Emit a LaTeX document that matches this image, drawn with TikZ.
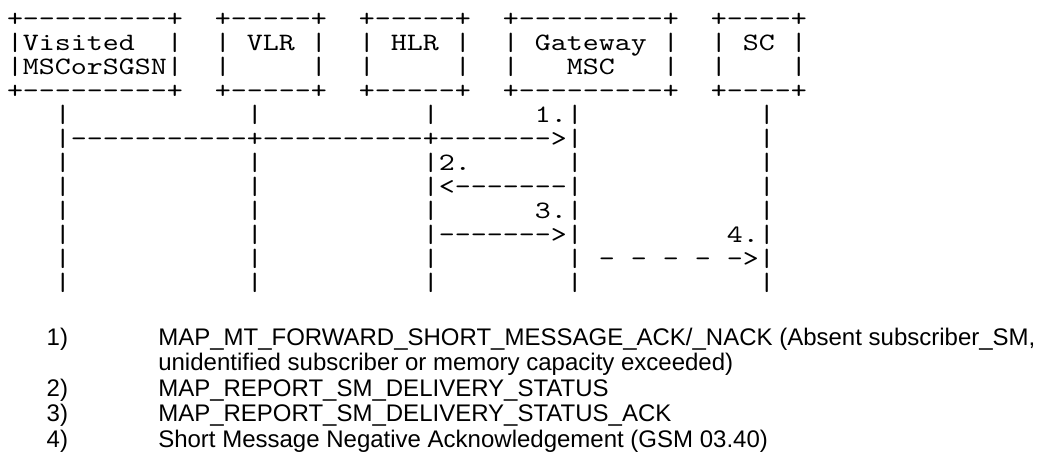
\documentclass[tikz,border=0pt]{standalone}
\usepackage{fontspec}
\newfontfamily\asciifont{lmmono10-regular}[Extension=.otf, Ligatures=TeXOff, FakeStretch=1.219]
\newfontfamily\notefont{Liberation Sans}
\newcommand\tightlines{\lineskiplimit=-1000pt\relax\lineskip=0pt\relax}
\begin{document}
\begin{tikzpicture}[x=1pt,y=-1pt,
  asciiart/.style={anchor=base west, inner sep=0pt, outer sep=0pt, align=left,
    font=\asciifont\fontsize{25pt}{24pt}\selectfont},
  notetext/.style={anchor=base west, inner sep=0pt, outer sep=0pt,
    font=\notefont\fontsize{24pt}{25.5pt}\selectfont}]
\useasboundingbox (0,0) rectangle (1040,455);
% participant boxes, lifelines and messages, drawn as the reference's ASCII art
% (anchor: baseline of the last line)
\node[asciiart] (chart) at (7,290) {\tightlines
+---------+~~+-----+~~+-----+~~+---------+~~+----+\\
|Visited~~|~~|~VLR~|~~|~HLR~|~~|~Gateway~|~~|~SC~|\\
|MSCorSGSN|~~|~~~~~|~~|~~~~~|~~|~~~MSC~~~|~~|~~~~|\\
+---------+~~+-----+~~+-----+~~+---------+~~+----+\\
~~~|~~~~~~~~~~~|~~~~~~~~~~|~~~~~~1.|~~~~~~~~~~~|\\
~~~|-----------+----------+------->|~~~~~~~~~~~|\\
~~~|~~~~~~~~~~~|~~~~~~~~~~|2.~~~~~~|~~~~~~~~~~~|\\
~~~|~~~~~~~~~~~|~~~~~~~~~~|<-------|~~~~~~~~~~~|\\
~~~|~~~~~~~~~~~|~~~~~~~~~~|~~~~~~3.|~~~~~~~~~~~|\\
~~~|~~~~~~~~~~~|~~~~~~~~~~|------->|~~~~~~~~~4.|\\
~~~|~~~~~~~~~~~|~~~~~~~~~~|~~~~~~~~|~-~-~-~-~->|\\
~~~|~~~~~~~~~~~|~~~~~~~~~~|~~~~~~~~|~~~~~~~~~~~|};
% notes
\node[notetext] (n1) at (46.7,345) {1)};
\node[notetext] (t1) at (158.3,345) {MAP\_MT\_FORWARD\_SHORT\_MESSAGE\_ACK/\_NACK (Absent subscriber\_SM,};
\node[notetext] (t1b) at (158.3,370.5) {unidentified subscriber or memory capacity exceeded)};
\node[notetext] (n2) at (46.7,396) {2)};
\node[notetext] (t2) at (158.3,396) {MAP\_REPORT\_SM\_DELIVERY\_STATUS};
\node[notetext] (n3) at (46.7,421.5) {3)};
\node[notetext] (t3) at (158.3,421.5) {MAP\_REPORT\_SM\_DELIVERY\_STATUS\_ACK};
\node[notetext] (n4) at (46.7,447) {4)};
\node[notetext] (t4) at (158.3,447) {Short Message Negative Acknowledgement (GSM 03.40)};
\end{tikzpicture}
\end{document}
